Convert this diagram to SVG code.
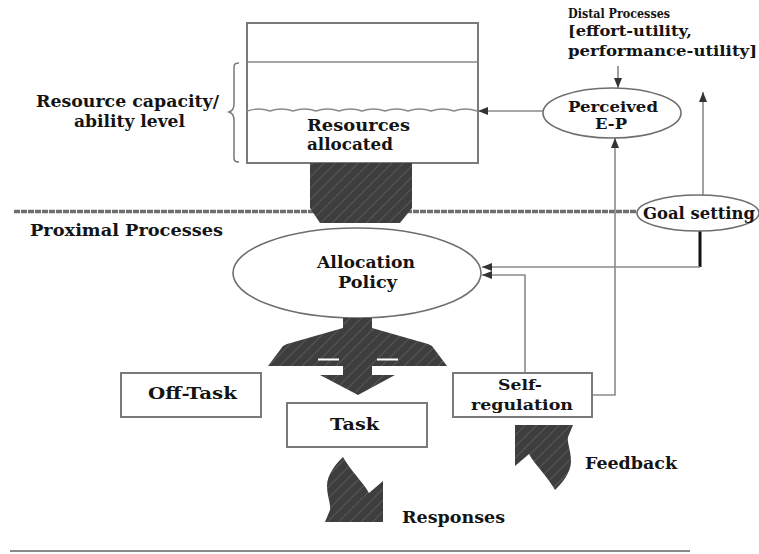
<svg xmlns="http://www.w3.org/2000/svg" width="759" height="554" viewBox="0 0 759 554">
<style>
text{font-family:"DejaVu Serif","Liberation Serif",serif;font-weight:bold;fill:#141414}
.t16{font-size:16px}
.t14{font-size:14px}
.t13{font-size:13px}
.box{fill:#fff;stroke:#7a7a7a;stroke-width:2}
.ell{fill:#fff;stroke:#6e6e6e;stroke-width:1.6}
.con{fill:none;stroke:#8a8a8a;stroke-width:1.6}
.dark{fill:url(#hatch)}
</style>
<defs>
<pattern id="hatch" patternUnits="userSpaceOnUse" width="8" height="8" patternTransform="rotate(45)">
<rect width="8" height="8" fill="#3e3e3e"/>
<line x1="0" y1="0" x2="0" y2="8" stroke="#6a6a6a" stroke-width="1.2"/>
</pattern>
<marker id="ah" markerUnits="userSpaceOnUse" markerWidth="12" markerHeight="10" refX="10" refY="5" orient="auto">
<path d="M0,1 L10,5 L0,9 Z" fill="#333"/>
</marker>
</defs>

<!-- proximal divider line -->
<line x1="14" y1="211.5" x2="640" y2="211.5" stroke="#6f6f6f" stroke-width="3.5" stroke-dasharray="6 1"/>
<!-- bottom rule -->
<line x1="10" y1="551" x2="690" y2="551" stroke="#8a8a8a" stroke-width="2"/>

<g id="resource-box">
<rect class="box" x="247" y="23" width="231" height="140"/>
<line x1="247" y1="62" x2="478" y2="62" stroke="#8a8a8a" stroke-width="1.6"/>
<path d="M247,111 q11.5,-4 23,0 q11.5,-4 23,0 q11.5,-4 23,0 q11.5,-4 23,0 q11.5,-4 23,0 q11.5,-4 23,0 q11.5,-4 23,0 q11.5,-4 23,0 q11.5,-4 23,0 q11.5,-4 23,0" fill="none" stroke="#8a8a8a" stroke-width="1.4"/>
<text class="t16" x="307" y="131" textLength="103" lengthAdjust="spacingAndGlyphs">Resources</text>
<text class="t16" x="307" y="150" textLength="86" lengthAdjust="spacingAndGlyphs">allocated</text>
</g>

<g id="capacity-label">
<path d="M239,63 C233,63 234,66 234,72 L234,104 C234,109 232,111 229,112 C232,113 234,115 234,120 L234,153 C234,159 233,162 239,162" fill="none" stroke="#777" stroke-width="1.5"/>
<text class="t16" x="36" y="107" textLength="183" lengthAdjust="spacingAndGlyphs">Resource capacity/</text>
<text class="t16" x="74" y="127" textLength="111" lengthAdjust="spacingAndGlyphs">ability level</text>
</g>

<g id="resource-flow">
<path class="dark" d="M310,163 L412,163 L412,208 L400,223 L320,223 L310,208 Z"/>
</g>

<g id="proximal-label">
<text class="t16" x="30" y="236" textLength="193" lengthAdjust="spacingAndGlyphs">Proximal Processes</text>
</g>

<g id="distal-label">
<text class="t13" x="568" y="18" textLength="102" lengthAdjust="spacingAndGlyphs">Distal Processes</text>
<text class="t14" x="568" y="36" textLength="124" lengthAdjust="spacingAndGlyphs">[effort-utility,</text>
<text class="t14" x="568" y="56" textLength="189" lengthAdjust="spacingAndGlyphs">performance-utility]</text>
</g>

<g id="connectors">
<line class="con" x1="543" y1="111" x2="478" y2="111" marker-end="url(#ah)"/>
<line class="con" x1="618" y1="66" x2="618" y2="88" marker-end="url(#ah)"/>
<line class="con" x1="703" y1="195" x2="703" y2="92" marker-end="url(#ah)"/>
<path d="M700,231 L700,267" fill="none" stroke="#111" stroke-width="3"/>
<path class="con" d="M700,267 L482,267" marker-end="url(#ah)"/>
<path class="con" d="M525,373 L525,275 L482,275" marker-end="url(#ah)"/>
<path class="con" d="M592,395 L615,395 L615,138" marker-end="url(#ah)"/>
</g>

<g id="perceived-ep">
<ellipse class="ell" cx="612" cy="113" rx="69" ry="25"/>
<text class="t14" x="568" y="112" textLength="90" lengthAdjust="spacingAndGlyphs">Perceived</text>
<text class="t14" x="595" y="129" textLength="32" lengthAdjust="spacingAndGlyphs">E-P</text>
</g>

<g id="goal-setting">
<ellipse class="ell" cx="698" cy="213" rx="61" ry="18"/>
<text class="t16" x="643" y="219" textLength="112" lengthAdjust="spacingAndGlyphs">Goal setting</text>
</g>

<g id="allocation-policy">
<ellipse class="ell" cx="357" cy="273" rx="124" ry="45"/>
<text class="t16" x="317" y="268" textLength="98" lengthAdjust="spacingAndGlyphs">Allocation</text>
<text class="t16" x="338" y="288" textLength="59" lengthAdjust="spacingAndGlyphs">Policy</text>
</g>

<g id="allocation-arrows">
<path class="dark" d="M343,318 L372,318 L372,328 L428,344 L432,346 L447,366 L372,366 L372,375 L395,375 L358,395 L320,375 L343,375 L343,366 L268,366 L283,346 L287,344 L343,328 Z"/>
<line x1="318" y1="359.5" x2="339" y2="359.5" stroke="#fff" stroke-width="2"/>
<line x1="377" y1="359.5" x2="398" y2="359.5" stroke="#fff" stroke-width="2"/>
</g>

<g id="off-task">
<rect class="box" x="121" y="373" width="140" height="44"/>
<text class="t16" x="148" y="399" textLength="89" lengthAdjust="spacingAndGlyphs">Off-Task</text>
</g>

<g id="task">
<rect class="box" x="287" y="403" width="140" height="44"/>
<text class="t16" x="330" y="430" textLength="49" lengthAdjust="spacingAndGlyphs">Task</text>
</g>

<g id="self-regulation">
<rect class="box" x="453" y="373" width="139" height="44"/>
<text class="t14" x="498" y="390" textLength="44" lengthAdjust="spacingAndGlyphs">Self-</text>
<text class="t14" x="471" y="410" textLength="102" lengthAdjust="spacingAndGlyphs">regulation</text>
</g>

<g id="responses">
<path class="dark" d="M343,457 C336,464 327,474 327,486 C327,496 331,504 330,510 L325,522 L383,522 L383,481 L369,493 C363,482 350,470 343,457 Z"/>
<text class="t16" x="402" y="523" textLength="103" lengthAdjust="spacingAndGlyphs">Responses</text>
</g>

<g id="feedback">
<path class="dark" d="M343,457 C336,464 327,474 327,486 C327,496 331,504 330,510 L325,522 L383,522 L383,481 L369,493 C363,482 350,470 343,457 Z" transform="rotate(180 449 473.5)"/>
<text class="t16" x="585" y="469" textLength="92" lengthAdjust="spacingAndGlyphs">Feedback</text>
</g>
</svg>
